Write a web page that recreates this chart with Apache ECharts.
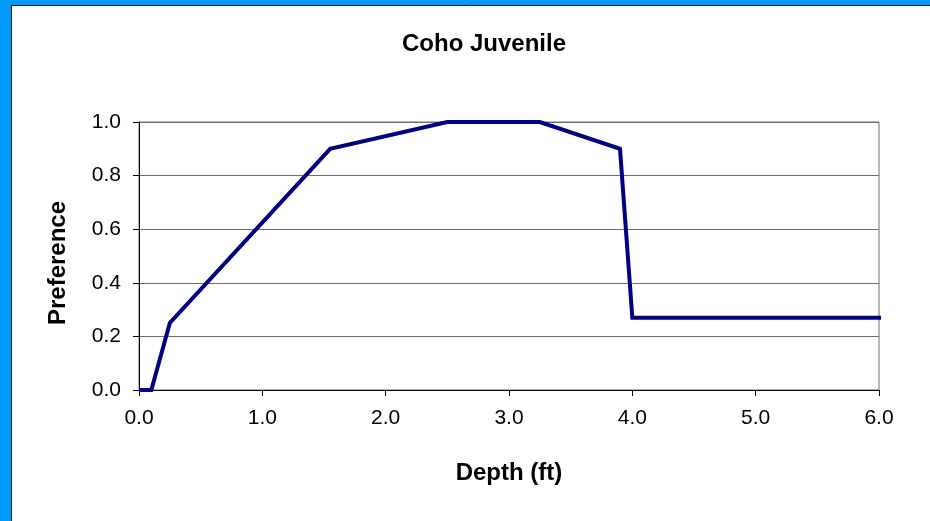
<!DOCTYPE html>
<html>
<head>
<meta charset="utf-8">
<script src="https://cdn.jsdelivr.net/npm/echarts@6/dist/echarts.min.js"></script>
<style>
  html, body { margin: 0; padding: 0; background: #fff; }
  #main { width: 930px; height: 521px; }
</style>
</head>
<body>
<div id="main"></div>
<script>
// depth (ft) vs preference
var depth = [0, 0.1, 0.25, 1.55, 2.5, 3.25, 3.9, 4.0, 6.06];
var preference = [0, 0, 0.25, 0.9, 1.0, 1.0, 0.9, 0.27, 0.27];
var xTicks = [0, 1, 2, 3, 4, 5, 6];
var yTicks = [0, 0.2, 0.4, 0.6, 0.8, 1.0];

var chart = echarts.init(document.getElementById('main'));

var font = 'Liberation Sans, Arial, sans-serif';

var option = {
  backgroundColor: '#fff',
  animation: false,
  title: {
    text: 'Coho Juvenile',
    left: 479,
    top: 27,
    textAlign: 'center',
    textStyle: { fontFamily: font, fontSize: 24, fontWeight: 'bold', color: '#000' }
  },
  grid: {
    left: 139,
    right: 51,
    top: 122,
    bottom: 131,
    show: true,
    borderColor: '#6e6e6e',
    borderWidth: 1
  },
  xAxis: {
    type: 'value',
    min: xTicks[0],
    max: xTicks[xTicks.length - 1],
    interval: 1,
    name: 'Depth (ft)',
    nameLocation: 'middle',
    nameGap: 71,
    nameTextStyle: { fontFamily: font, fontSize: 24, fontWeight: 'bold', color: '#000' },
    axisLine: { lineStyle: { color: '#000', width: 1 } },
    axisTick: { show: true, length: 6, lineStyle: { color: '#000' } },
    axisLabel: {
      margin: 18,
      fontFamily: font, fontSize: 21, color: '#000',
      formatter: function (v) { return v.toFixed(1); }
    },
    splitLine: { show: false }
  },
  yAxis: {
    type: 'value',
    min: yTicks[0],
    max: yTicks[yTicks.length - 1],
    interval: 0.2,
    name: 'Preference',
    nameLocation: 'middle',
    nameGap: 69,
    nameTextStyle: {
      fontFamily: font, fontSize: 24, fontWeight: 'bold', color: '#000',
      padding: [0, 14, 0, 0]
    },
    axisLine: { show: true, lineStyle: { color: '#000', width: 1 } },
    axisTick: { show: true, length: 6, lineStyle: { color: '#000' } },
    axisLabel: {
      margin: 18,
      fontFamily: font, fontSize: 21, color: '#000',
      formatter: function (v) { return v.toFixed(1); }
    },
    splitLine: { show: true, lineStyle: { color: '#6e6e6e', width: 1 } }
  },
  series: [{
    type: 'line',
    data: depth.map(function (d, i) { return [d, preference[i]]; }),
    symbol: 'none',
    clip: false,
    lineStyle: { color: '#000080', width: 4, join: 'miter' }
  }],
  // blue frame on the left and top edges
  graphic: [
    { type: 'rect', shape: { x: 0, y: 0, width: 11, height: 521 }, style: { fill: '#0099FF' }, silent: true },
    { type: 'rect', shape: { x: 0, y: 0, width: 930, height: 5 }, style: { fill: '#0099FF' }, silent: true },
    { type: 'line', shape: { x1: 11.5, y1: 5, x2: 11.5, y2: 521 }, style: { stroke: '#1a1a1a', lineWidth: 1 }, silent: true },
    { type: 'line', shape: { x1: 11, y1: 5.5, x2: 930, y2: 5.5 }, style: { stroke: '#1a1a1a', lineWidth: 1 }, silent: true }
  ]
};

chart.setOption(option);
</script>
</body>
</html>
